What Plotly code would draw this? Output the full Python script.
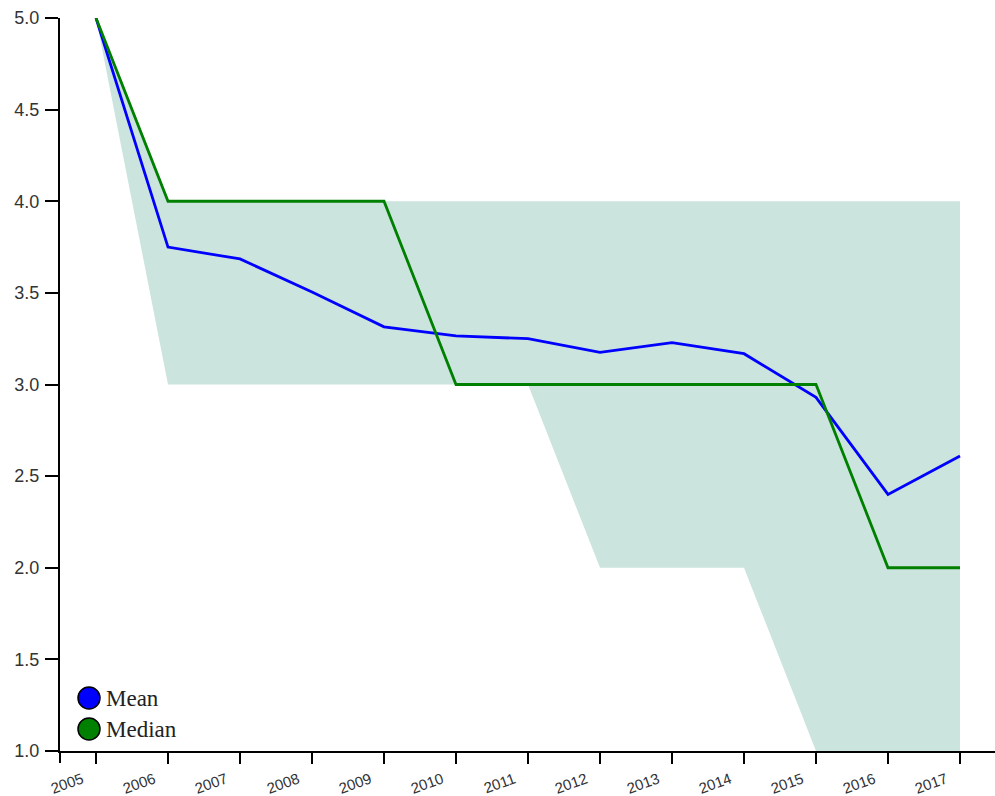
import plotly.graph_objects as go

years = [2005, 2006, 2007, 2008, 2009, 2010, 2011, 2012, 2013, 2014, 2015, 2016, 2017]
upper = [5, 4, 4, 4, 4, 4, 4, 4, 4, 4, 4, 4, 4]
lower = [5, 3, 3, 3, 3, 3, 3, 2, 2, 2, 1, 1, 1]
mean = [5.0, 3.75, 3.685, 3.505, 3.315, 3.265, 3.25, 3.175, 3.228, 3.168, 2.93, 2.40, 2.61]
median = [5, 4, 4, 4, 4, 3, 3, 3, 3, 3, 3, 2, 2]
y_ticks = [1.0, 1.5, 2.0, 2.5, 3.0, 3.5, 4.0, 4.5, 5.0]
legend_names = ["Mean", "Median"]

band_color = "rgb(204,228,222)"
blue = "#0000ff"
green = "#008000"
legend_colors = [blue, green]

fig = go.Figure()
fig.add_trace(go.Scatter(x=years, y=lower, mode="lines", line=dict(width=0),
                         showlegend=False, hoverinfo="skip"))
fig.add_trace(go.Scatter(x=years, y=upper, mode="lines", line=dict(width=0),
                         fill="tonexty", fillcolor=band_color,
                         showlegend=False, hoverinfo="skip"))
fig.add_trace(go.Scatter(x=years, y=mean, mode="lines", line=dict(color=blue, width=2.8),
                         name="Mean", showlegend=False))
fig.add_trace(go.Scatter(x=years, y=median, mode="lines", line=dict(color=green, width=2.8),
                         name="Median", showlegend=False))

W, H = 995, 796
ml, mr, mt, mb = 60, 0, 18, 45
pw, ph = W - ml - mr, H - mt - mb

fig.update_layout(
    width=W, height=H,
    margin=dict(l=ml, r=mr, t=mt, b=mb, autoexpand=False),
    plot_bgcolor="white", paper_bgcolor="white",
    showlegend=False,
    xaxis=dict(range=[2004.5, 2004.5 + pw / 72.0], tickvals=years, ticktext=[str(y) for y in years],
               tickangle=-20, showgrid=False, zeroline=False, automargin=False,
               showline=True, linecolor="black", linewidth=2,
               ticks="outside", ticklen=11, tickwidth=2, tickcolor="black",
               ticklabelshift=-14, ticklabelstandoff=1,
               tickfont=dict(family="Arial, Liberation Sans, sans-serif", size=15, color="#333")),
    yaxis=dict(range=[1.0, 5.0], tickvals=y_ticks, ticktext=[f"{v:.1f}" for v in y_ticks],
               showgrid=False, zeroline=False, automargin=False,
               showline=True, linecolor="black", linewidth=2,
               ticks="outside", ticklen=13, tickwidth=2, tickcolor="black",
               ticklabelstandoff=2,
               tickfont=dict(family="Arial, Liberation Sans, sans-serif", size=18, color="#333")),
)
# outer tick at x-axis origin (d3 style)
fig.add_shape(type="line", xref="paper", yref="paper", x0=0, x1=0, y0=0, y1=-12 / ph,
              line=dict(color="black", width=2))

# custom legend
for i, (name, col) in enumerate(zip(legend_names, legend_colors)):
    cy = (751 - (698 + 31 * i)) / ph
    fig.add_shape(type="circle", xref="paper", yref="paper",
                  xsizemode="pixel", ysizemode="pixel",
                  xanchor=(89 - ml) / pw, yanchor=cy, x0=-11, x1=11, y0=-11, y1=11,
                  fillcolor=col, line=dict(color="black", width=1.5))
    fig.add_annotation(xref="paper", yref="paper", x=(104 - ml) / pw, y=cy,
                       xanchor="left", yanchor="middle", showarrow=False, text=name,
                       font=dict(family="Liberation Serif, Times New Roman, serif", size=23, color="#222"))

fig.write_html("out.html")
